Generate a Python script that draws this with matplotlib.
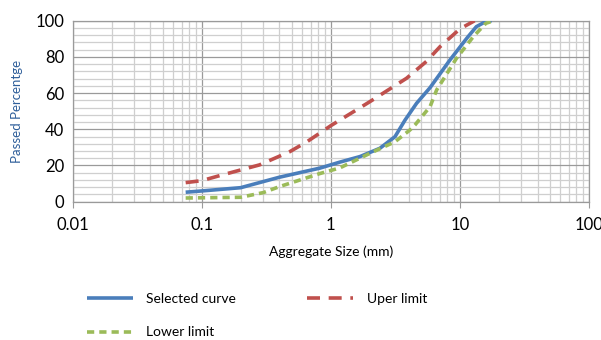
import numpy as np
import matplotlib
matplotlib.use('Agg')
import matplotlib.pyplot as plt
from matplotlib.ticker import LogLocator, MultipleLocator, FixedLocator, FixedFormatter

plt.rcParams['font.family'] = ['Lato', 'DejaVu Sans']

# values (sieve size in mm, % passing)
sel_size = [0.075, 0.1, 0.2, 0.4, 0.82, 1.17, 1.68, 2.4, 3.14, 3.75, 4.62, 5.87, 8.37, 11.3, 13.4, 15.9, 17.6]
sel_pass = [5.2, 5.9, 7.7, 13.5, 18.5, 21.8, 24.9, 29.5, 35.9, 45.0, 54.4, 63.0, 78.3, 90.3, 96.7, 99.6, 100]

up_size = [0.075, 0.1, 0.138, 0.28, 0.48, 0.65, 1.0, 1.14, 2.01, 3.86, 5.5, 7.0, 10.0, 13.0]
up_pass = [10.5, 11.6, 14.4, 20.3, 27.6, 33.0, 42.0, 44.5, 55.3, 68.2, 77.5, 85.6, 95.5, 100]

low_size = [0.075, 0.2, 0.3, 0.4, 0.82, 1.17, 2.01, 3.14, 4.1, 4.5, 5.87, 6.6, 9.4, 12.7, 15.9, 18.2]
low_pass = [2.0, 2.4, 5.0, 8.3, 15.5, 18.6, 26.7, 33.1, 39.6, 42.5, 52.5, 61.7, 79.2, 91.2, 98.6, 100]

x_ticks = [0.01, 0.1, 1, 10, 100]
x_labels = ['0.01', '0.1', '1', '10', '100']

fig = plt.figure(figsize=(6.01, 3.40), dpi=100)
ax = fig.add_axes([0.121, 0.407, 0.859, 0.532])

l_sel, = ax.plot(sel_size, sel_pass, color='#4A7EBB', lw=2.6, label='Selected curve', solid_capstyle='butt', zorder=3)
l_up, = ax.plot(up_size, up_pass, color='#C0504D', lw=2.6, dashes=(3.6, 2.4), label='Uper limit', zorder=3)
l_low, = ax.plot(low_size, low_pass, color='#9BBB59', lw=2.6, dashes=(2.0, 1.4), label='Lower limit', zorder=3)

ax.set_xscale('log')
ax.set_xlim(0.01, 100)
ax.set_ylim(0, 100)

ax.xaxis.set_major_locator(FixedLocator(x_ticks))
ax.xaxis.set_major_formatter(FixedFormatter(x_labels))
ax.xaxis.set_minor_locator(LogLocator(base=10, subs=np.arange(2, 10)))
ax.xaxis.set_minor_formatter(plt.NullFormatter())
ax.yaxis.set_major_locator(MultipleLocator(20))
ax.yaxis.set_minor_locator(MultipleLocator(4))

ax.grid(which='major', color='#9a9a9a', lw=0.9)
ax.grid(which='minor', color='#cfcfcf', lw=0.9)
ax.set_axisbelow(True)

for s in ax.spines.values():
    s.set_color('#9a9a9a')
    s.set_linewidth(0.9)

ax.tick_params(axis='x', which='major', length=4, color='#9a9a9a', labelsize=12, pad=7)
ax.tick_params(axis='x', which='minor', length=0)
ax.tick_params(axis='y', which='both', length=0, labelsize=12, pad=6)

ax.set_xlabel('Aggregate Size (mm)', fontsize=10, labelpad=9)
ax.set_ylabel('Passed Percentge', fontsize=9.5, color='#2E5E9A', labelpad=9)

fig.legend([l_sel, l_low, l_up], ['Selected curve', 'Lower limit', 'Uper limit'],
           loc='upper left', bbox_to_anchor=(0.135, 0.155), ncol=2, frameon=False,
           fontsize=10, handlelength=3.3, handletextpad=1.0, columnspacing=5.1,
           labelspacing=1.55, borderaxespad=0)

fig.savefig('out.png', dpi=100)
